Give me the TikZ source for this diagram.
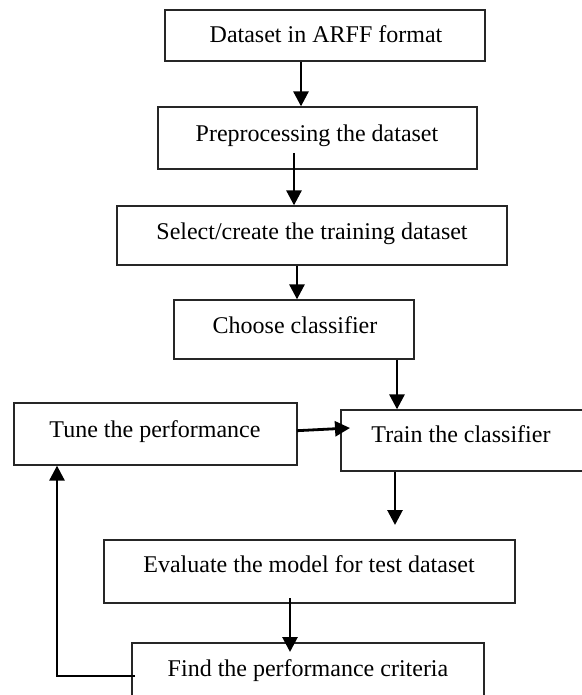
\documentclass[tikz,border=0pt]{standalone}
\usepackage{fontspec}
\setmainfont{Liberation Serif}
\usetikzlibrary{arrows.meta,fit,calc}
\begin{document}
\begin{tikzpicture}[x=0.5pt,y=-0.5pt,
  box/.style={draw=black!85, line width=0.65pt, inner sep=0pt},
  txt/.style={anchor=base, font=\fontsize{12}{14}\selectfont, inner sep=0pt},
  arr/.style={line width=1.4pt, -{Triangle[width=7.5pt,length=7.5pt]}}]
\useasboundingbox (0,0) rectangle (582,695);
\clip (0,0) rectangle (582,695);
% boxes
\node[box, fit={(165,10) (485,61)}] (b1) {};
\node[box, fit={(158,107) (477,169)}] (b2) {};
\node[box, fit={(117,206) (507,265)}] (b3) {};
\node[box, fit={(174,300) (414,359)}] (b4) {};
\node[box, fit={(14,403) (297,465)}] (tune) {};
\node[box, fit={(341,410) (586,471)}] (train) {};
\node[box, fit={(104,540) (515,603)}] (eval) {};
\node[box, fit={(132,643) (484,700)}] (find) {};
% texts
\node[txt] (t1) at (326,43) {Dataset in ARFF format};
\node[txt] (t2) at (317,142) {Preprocessing the dataset};
\node[txt] (t3) at (312,240) {Select/create the training dataset};
\node[txt] (t4) at (295,333) {Choose classifier};
\node[txt] (t5) at (155,437) {Tune the performance};
\node[txt] (t6) at (461,442) {Train the classifier};
\node[txt] (t7) at (309,572) {Evaluate the model for test dataset};
\node[txt] (t8) at (308,676) {Find the performance criteria};
% helper coordinates
\coordinate (c1) at (301,0);
\coordinate (c2s) at (294,153);
\coordinate (c3) at (297,0);
\coordinate (c4) at (397,0);
\coordinate (c5s) at (297,430.7);
\coordinate (c5e) at (350,428);
\coordinate (c6) at (395,0);
\coordinate (c6e) at (395,525);
\coordinate (c7s) at (290,598);
\coordinate (c7e) at (290,652);
\coordinate (c8s) at (135,676);
\coordinate (c8) at (57,0);
% connectors
\draw[arr] (b1.south -| c1) -- (b2.north -| c1);
\draw[arr] (c2s) -- (b3.north -| c2s);
\draw[arr] (b3.south -| c3) -- (b4.north -| c3);
\draw[arr] (b4.south -| c4) -- (train.north -| c4);
\draw[arr] (c5s) -- (c5e);
\draw[arr] (train.south -| c6) -- (c6e);
\draw[arr] (c7s) -- (c7e);
\draw[arr] (c8s) -| (tune.south -| c8);
\end{tikzpicture}
\end{document}
